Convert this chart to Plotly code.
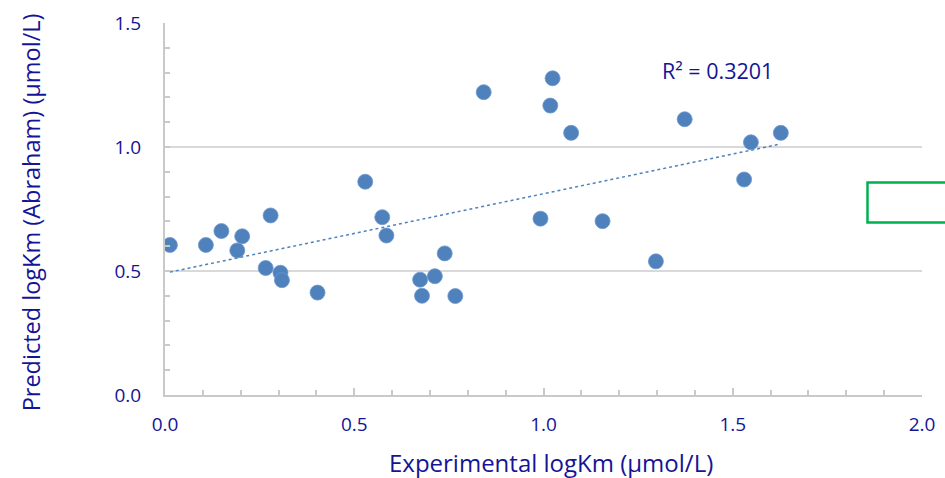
import numpy as np
import plotly.graph_objects as go

# Data
experimental_logkm = [0.013, 0.108, 0.149, 0.204, 0.191, 0.279, 0.266, 0.305, 0.309, 0.403,
                      0.529, 0.574, 0.585, 0.674, 0.679, 0.713, 0.739, 0.767, 0.842, 0.992,
                      1.018, 1.024, 1.073, 1.156, 1.297, 1.373, 1.530, 1.548, 1.627]
predicted_logkm = [0.605, 0.605, 0.661, 0.640, 0.583, 0.724, 0.512, 0.493, 0.463, 0.413,
                   0.860, 0.717, 0.643, 0.465, 0.400, 0.479, 0.571, 0.399, 1.221, 0.711,
                   1.167, 1.277, 1.057, 0.701, 0.539, 1.112, 0.869, 1.019, 1.057]
r2_label = "R² = 0.3201"
x_title = "Experimental logKm (µmol/L)"
y_title = "Predicted logKm (Abraham) (µmol/L)"

x = np.array(experimental_logkm)
y = np.array(predicted_logkm)
slope, intercept = np.polyfit(x, y, 1)
trend_x = np.array([x.min(), x.max()])
trend_y = slope * trend_x + intercept

TXT = "#141496"
FONT = "Open Sans"
AX = "#c9c9c9"

fig = go.Figure()
fig.add_trace(go.Scatter(x=trend_x, y=trend_y, mode="lines",
                         line=dict(color="#4F81BD", width=1.5, dash="dot"),
                         hoverinfo="skip", showlegend=False))
fig.add_trace(go.Scatter(x=x, y=y, mode="markers",
                         marker=dict(color="#4F81BD", size=15,
                                     line=dict(color="#6f98cc", width=0.8)),
                         showlegend=False))

fig.update_layout(
    width=945, height=478,
    margin=dict(l=165, r=10, t=20, b=83),
    paper_bgcolor="white", plot_bgcolor="white",
    font=dict(family=FONT, color=TXT, size=19),
    xaxis=dict(range=[0, 2.0], dtick=0.5, tick0=0, tickformat=".1f",
               showgrid=False, zeroline=False,
               showline=True, linecolor=AX, linewidth=2,
               ticks="inside", ticklen=7, tickcolor=AX, tickwidth=1.5,
               minor=dict(dtick=0.1, ticks="inside", ticklen=5, tickcolor=AX, tickwidth=1.5, showgrid=False),
               ticklabelstandoff=11, ticklabeloverflow="allow",
               tickfont=dict(family=FONT, color=TXT, size=19)),
    yaxis=dict(range=[0, 1.5], dtick=0.5, tick0=0, tickformat=".1f",
               showgrid=True, gridcolor="#d9d9d9", gridwidth=2, zeroline=False,
               showline=True, linecolor=AX, linewidth=2,
               ticks="inside", ticklen=5, tickcolor=AX, tickwidth=1.5,
               minor=dict(dtick=0.1, ticks="inside", ticklen=5, tickcolor=AX, tickwidth=1.5, showgrid=False),
               ticklabelstandoff=18, ticklabeloverflow="allow",
               tickfont=dict(family=FONT, color=TXT, size=19)),
    annotations=[
        dict(text=x_title, xref="paper", yref="paper", x=0.51, y=-0.181,
             showarrow=False, font=dict(family=FONT, color=TXT, size=24),
             xanchor="center", yanchor="middle"),
        dict(text=y_title, xref="paper", yref="paper", x=-0.1775, y=0.49,
             showarrow=False, textangle=-90, font=dict(family=FONT, color=TXT, size=23.5),
             xanchor="center", yanchor="middle"),
        dict(text=r2_label, xref="x", yref="y", x=1.46, y=1.31,
             showarrow=False, font=dict(family=FONT, color=TXT, size=21.5),
             xanchor="center", yanchor="middle"),
    ],
    shapes=[
        dict(type="rect", xref="paper", yref="paper", x0=0.928, x1=1.04, y0=0.464, y1=0.571,
             line=dict(color="#00B050", width=2.5), fillcolor="rgba(0,0,0,0)"),
    ],
)

fig.write_html("out.html", config={"displayModeBar": False},
               post_script="document.body.style.margin='0';document.body.style.overflow='hidden';")
